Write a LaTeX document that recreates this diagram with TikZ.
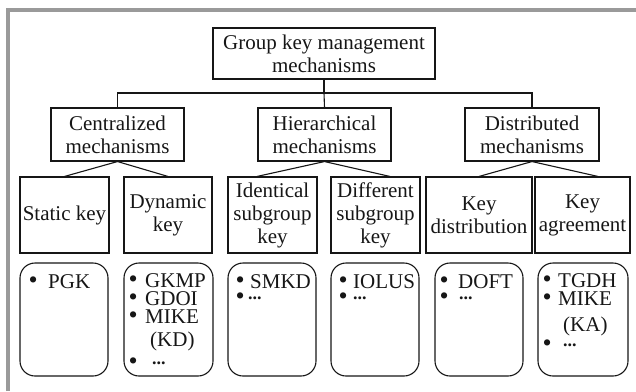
\documentclass[tikz,border=0pt]{standalone}
\usepackage{fontspec}
\setmainfont{Liberation Serif}
\definecolor{ink}{HTML}{161616}
\definecolor{frame}{HTML}{9A9A9A}
% bullet set in a box of given width, followed by the entry text
\newcommand\bitem[2]{\makebox[#1][l]{\fontsize{26}{26}\selectfont•}#2}
% small bold dots raised to bullet height
\newcommand\moredots{\raisebox{4.6pt}{\fontsize{18}{18}\selectfont\bfseries...}}
\begin{document}
\begin{tikzpicture}[x=1pt,y=-1pt,
  every node/.style={text=ink},
  box/.style={draw=ink,line width=1.1pt,inner sep=0pt,align=center,
    font=\fontsize{21}{23}\selectfont},
  listbox/.style={draw=ink,line width=1.1pt,rounded corners=15pt,inner sep=0pt},
  item/.style={anchor=base west,inner sep=0pt,font=\fontsize{21}{21}\selectfont},
  link/.style={draw=ink,line width=1.1pt}]
\useasboundingbox (0,0) rectangle (636,391);

% outer frame (top and left edges only)
\draw[frame,line width=4pt] (8,391) -- (8,10) -- (636,10);

% root
\node[box,minimum width=222pt,minimum height=51pt] (root) at (324,53.5)
  {Group key management\\mechanisms};

% second level
\node[box,minimum width=133pt,minimum height=53pt] (cen) at (117.5,134.5)
  {Centralized\\mechanisms};
\node[box,minimum width=133pt,minimum height=53pt] (hie) at (324.5,134.5)
  {Hierarchical\\mechanisms};
\node[box,minimum width=134pt,minimum height=53pt] (dis) at (532,134.5)
  {Distributed\\mechanisms};

% third level
\node[box,minimum width=89pt,minimum height=76pt] (stat) at (64.5,215) {Static key};
\node[box,minimum width=88pt,minimum height=76pt] (dyn) at (168,215) {Dynamic\\key};
\node[box,minimum width=89pt,minimum height=76pt] (ident) at (272.5,215) {Identical\\subgroup\\key};
\node[box,minimum width=89pt,minimum height=76pt] (diff) at (375.5,215) {Different\\subgroup\\key};
\node[box,minimum width=106pt,minimum height=76pt] (kdist) at (479,215) {Key\\distribution};
\node[box,minimum width=95pt,minimum height=76pt] (kagr) at (582.5,215) {Key\\agreement};

% example lists
\node[listbox,minimum width=88pt,minimum height=113pt] (l1) at (64,319.5) {};
\node[listbox,minimum width=89pt,minimum height=113pt] (l2) at (168.5,319.5) {};
\node[listbox,minimum width=88pt,minimum height=113pt] (l3) at (272,319.5) {};
\node[listbox,minimum width=88pt,minimum height=113pt] (l4) at (375,319.5) {};
\node[listbox,minimum width=88pt,minimum height=113pt] (l5) at (479,319.5) {};
\node[listbox,minimum width=90pt,minimum height=113pt] (l6) at (583,319.5) {};

\node[item] (pgk) at (28.5,288) {\bitem{19.5pt}{PGK}};

\node[item] (gkmp) at (128.5,287) {\bitem{16.5pt}{GKMP}};
\node[item] (gdoi) at (128.5,305) {\bitem{16.5pt}{GDOI}};
\node[item] (mikekd) at (128.5,323) {\bitem{16.5pt}{MIKE}};
\node[item] (kd) at (150,346) {(KD)};
\node[item] (dotsb) at (128.5,369) {\bitem{23.5pt}{\moredots}};

\node[item] (smkd) at (235.5,288) {\bitem{14.5pt}{SMKD}};
\node[item] (dotsc) at (235.5,304) {\bitem{12.5pt}{\moredots}};

\node[item] (iolus) at (338.5,288) {\bitem{14.5pt}{IOLUS}};
\node[item] (dotsd) at (338.5,304) {\bitem{14.5pt}{\moredots}};

\node[item] (doft) at (439.5,288) {\bitem{18.5pt}{DOFT}};
\node[item] (dotse) at (439.5,304) {\bitem{19.5pt}{\moredots}};

\node[item] (tgdh) at (542.5,287) {\bitem{15.5pt}{TGDH}};
\node[item] (mikeka) at (542.5,305) {\bitem{15.5pt}{MIKE}};
\node[item] (ka) at (563,331) {(KA)};
\node[item] (dotsf) at (542.5,351) {\bitem{20.5pt}{\moredots}};

% connectors
\coordinate (bus) at (324,93);
\draw[link] (root.south) -- (bus);
\draw[link] (cen.north) |- (bus) -| (dis.north);
\draw[link] (bus) -- (hie.north);

\draw[link] (stat.north) -- (cen.south) -- (dyn.north);
\draw[link] ([xshift=-15.5pt]ident.north) -- (hie.south) -- ([xshift=14.5pt]diff.north);
\draw[link] (kdist.north) -- (dis.south) -- ([xshift=15.5pt]kagr.north);
\end{tikzpicture}
\end{document}
